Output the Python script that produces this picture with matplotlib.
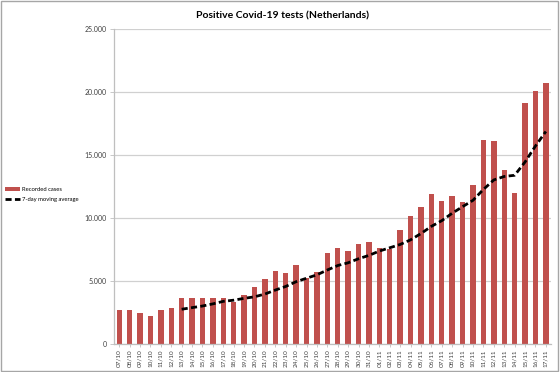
import numpy as np
import matplotlib.pyplot as plt
from matplotlib.patches import Rectangle
from matplotlib.ticker import FuncFormatter

# dates (day/month) 07/10 .. 17/11
days = ['07/10', '08/10', '09/10', '10/10', '11/10', '12/10', '13/10', '14/10',
        '15/10', '16/10', '17/10', '18/10', '19/10', '20/10', '21/10', '22/10',
        '23/10', '24/10', '25/10', '26/10', '27/10', '28/10', '29/10', '30/10',
        '31/10', '01/11', '02/11', '03/11', '04/11', '05/11', '06/11', '07/11',
        '08/11', '09/11', '10/11', '11/11', '12/11', '13/11', '14/11', '15/11',
        '16/11', '17/11']

# daily recorded cases
cases = [2713, 2720, 2478, 2215, 2665, 2848, 3665, 3614, 3614, 3665, 3614,
         3322, 3851, 4535, 5141, 5830, 5672, 6250, 5245, 5751, 7222, 7617,
         7357, 7910, 8124, 7649, 7570, 9073, 10180, 10861, 11889, 11311, 11762,
         11232, 12601, 16215, 16136, 13818, 11968, 19142, 20091, 20700]

# 7-day moving average, starts at 13/10
avg_start = 6
avg7 = [2758, 2886, 3014, 3184, 3384, 3477, 3621, 3745, 3963, 4280, 4566,
        4943, 5218, 5489, 5873, 6227, 6445, 6765, 7032, 7376, 7636, 7900,
        8266, 8767, 9335, 9790, 10378, 10901, 11405, 12267, 13021, 13296,
        13390, 14445, 15710, 16867]

plt.rcParams['font.family'] = ['Lato', 'DejaVu Sans']

fig = plt.figure(figsize=(5.6, 3.72), dpi=100)
ax = fig.add_axes([0.2036, 0.0753, 0.7804, 0.8467])

x = np.arange(len(days))
bars = ax.bar(x, cases, width=0.52, color='#C0504D', label='Recorded cases', zorder=2)
line, = ax.plot(x[avg_start:], avg7, color='black', linestyle=(0, (2.2, 1.2)), linewidth=2,
                label='7-day moving average', zorder=3)

ax.set_xlim(-0.5, len(days) - 0.5)
ax.set_ylim(0, 25000)
ax.set_yticks(np.arange(0, 25001, 5000))
ax.yaxis.set_major_formatter(FuncFormatter(lambda v, p: '{:,.0f}'.format(v).replace(',', '.')))
ax.set_xticks(x)
ax.set_xticklabels(days, rotation=90, fontsize=4.6, color='#404040')
ax.tick_params(axis='y', labelsize=5, colors='#404040', length=3, width=0.6, pad=2)
ax.tick_params(axis='x', length=2, width=0.6, pad=2)
ax.tick_params(axis='y', color='#BFBFBF')
ax.tick_params(axis='x', color='#BFBFBF')

ax.grid(axis='y', color='#D0D0D0', linewidth=0.9, zorder=0)
ax.set_axisbelow(True)
for s in ['top', 'right']:
    ax.spines[s].set_visible(False)
ax.spines['left'].set_color('#BFBFBF')
ax.spines['bottom'].set_color('#BFBFBF')
ax.spines['left'].set_linewidth(0.9)
ax.spines['bottom'].set_linewidth(0.9)

fig.text(0.504, 0.958, 'Positive Covid-19 tests (Netherlands)', ha='center', va='center',
         fontsize=7.5, fontweight='bold')

fig.legend([bars, line], ['Recorded cases', '7-day moving average'],
           loc='center left', bbox_to_anchor=(0.0, 0.477), frameon=False, fontsize=4.2,
           handlelength=2.6, handletextpad=0.3, labelspacing=0.75)

fig.patches.append(Rectangle((0.002, 0.003), 0.994, 0.994, transform=fig.transFigure,
                             fill=False, edgecolor='#A6A6A6', linewidth=1))

plt.savefig('out.png', dpi=100)
